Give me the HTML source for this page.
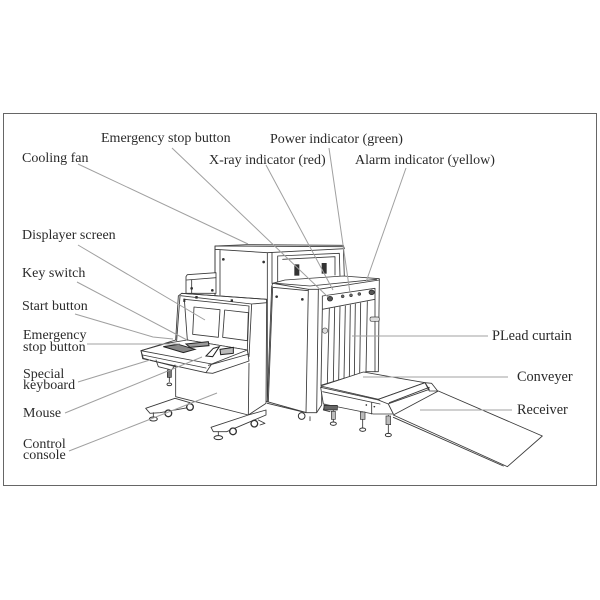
<!DOCTYPE html>
<html>
<head>
<meta charset="utf-8">
<style>
html,body{margin:0;padding:0;background:#fff}
svg{display:block;filter:blur(.3px)}
text{font-family:"Liberation Serif",serif;font-size:14px;fill:#2a2a2a}
.l{stroke:#a0a0a0;stroke-width:1;fill:none}
.d{stroke:#3a3a3a;stroke-width:2.6;fill:none;stroke-linejoin:round;stroke-linecap:round}
.f{stroke:#3a3a3a;stroke-width:2.6;fill:#fff;stroke-linejoin:round}
.k{fill:#333;stroke:none}
</style>
</head>
<body>
<svg width="600" height="600" viewBox="0 0 600 600" xmlns="http://www.w3.org/2000/svg">
<rect x="3.5" y="113.5" width="593" height="372" fill="#fff" stroke="#666" stroke-width="1"/>

<!-- main machine -->
<g transform="translate(210,230) scale(.33333)">
  <path class="f" d="M15 48 L400 50 L403 140 L190 160 L172 515 L15 500 Z"/>
  <path class="d" d="M15 48 L15 200 M30 60 L30 195 M15 58 L172 68 M172 68 L172 515 M186 68 L186 160 M15 48 L110 44 L400 46 L403 56 L172 68 M203 78 L388 70 L390 140 M203 78 L203 155 M218 88 L375 80 L375 135"/>
  <rect class="k" x="253" y="103" width="15" height="34"/>
  <rect class="k" x="335" y="99" width="15" height="32"/>
  <circle class="k" cx="40" cy="88" r="4"/>
  <circle class="k" cx="161" cy="96" r="4"/>
  <path class="f" d="M188 160 L225 150 L400 138 L508 146 L505 425 L470 425 L335 465 L335 525 L320 548 L290 548 L172 515 L185 170 Z"/>
  <path class="d" d="M188 160 L295 178 L325 178 L508 150 M188 172 L295 182 M295 178 L288 548 M325 178 L320 548 M188 170 L175 515 M172 520 L288 548 M198 160 L300 168 L500 148"/>
  <path class="d" d="M337 198 L495 175 L495 208 L337 238 Z M337 238 L333 465 M472 215 L468 425 M495 208 L495 425 M358 236 L352 458 M374 233 L370 455 M390 230 L386 450 M406 228 L402 446 M421 225 L418 442 M436 222 L433 438 M452 219 L449 434"/>
  <circle class="k" cx="200" cy="200" r="4"/>
  <circle class="k" cx="277" cy="208" r="4"/>
  <ellipse cx="360" cy="206" rx="8" ry="7" fill="#555" stroke="#222" stroke-width="2"/>
  <circle cx="398" cy="199" r="4.5" fill="#666" stroke="#222" stroke-width="1.5"/>
  <circle cx="423" cy="196" r="4.5" fill="#666" stroke="#222" stroke-width="1.5"/>
  <circle cx="448" cy="192" r="4.5" fill="#666" stroke="#222" stroke-width="1.5"/>
  <ellipse cx="485" cy="187" rx="8" ry="7" fill="#555" stroke="#222" stroke-width="2"/>
  <rect x="480" y="261" width="28" height="13" rx="5" fill="#ddd" stroke="#444" stroke-width="2"/>
  <circle cx="345" cy="302" r="8" fill="#ddd" stroke="#555" stroke-width="2"/>
  <circle cx="275" cy="558" r="10" fill="#fff" stroke="#333" stroke-width="3"/>
</g>

<!-- console -->
<g transform="translate(130,230) scale(.33333)">
  <path class="f" d="M168 190 L168 140 L172 134 L258 128 L258 190 Z"/>
  <path class="d" d="M170 150 L258 143 M185 150 L185 190"/>
  <circle class="k" cx="185" cy="175" r="4"/>
  <circle class="k" cx="247" cy="181" r="4"/>
  <path class="f" d="M137 330 L145 198 L155 190 L410 208 L408 520 L355 555 L137 500 L137 410 L40 385 L33 362 L137 330 Z"/>
  <path class="d" d="M152 197 L365 222 M155 190 L410 208 L410 218 L365 222 L357 380 M150 198 L140 332"/>
  <path class="d" d="M163 208 L357 228 L352 360 L172 330 Z"/>
  <path class="d" d="M192 231 L270 239 L265 322 L188 313 Z M284 240 L355 248 L352 332 L278 322 Z M357 400 L355 555"/>
  <rect class="k" x="196" y="198" width="7" height="8"/>
  <rect class="k" x="302" y="208" width="7" height="8"/>
  <rect class="k" x="160" y="206" width="6" height="10"/>
  <path class="f" d="M33 362 L110 340 L172 330 L352 360 L245 402 Z"/>
  <path class="d" d="M33 362 L38 386 L228 428 L245 402 M228 428 L248 430 L357 393 L352 360 M38 375 L228 414 M235 406 L357 372"/>
  <path d="M100 350 L145 343 L195 358 L160 368 Z" fill="#888" stroke="#222" stroke-width="3"/>
  <path d="M168 342 L235 335 L237 347 L180 352 Z" fill="#999" stroke="#222" stroke-width="3"/>
  <path d="M228 378 L250 355 L268 350 L248 380 Z" fill="#fff" stroke="#222" stroke-width="3"/>
  <path d="M270 358 L310 352 L310 370 L272 374 Z" fill="#bbb" stroke="#222" stroke-width="3"/>
  <path class="d" d="M78 390 L85 410 L125 420 L135 405 M118 420 V455"/>
  <rect x="112" y="420" width="12" height="22" fill="#777" stroke="#222" stroke-width="2"/>
  <ellipse cx="118" cy="463" rx="7" ry="4" fill="#fff" stroke="#333" stroke-width="3"/>
  <path class="f" d="M47 535 L135 505 L180 518 L190 530 L90 548 L60 550 Z"/>
  <ellipse cx="70" cy="567" rx="12" ry="6" fill="#fff" stroke="#333" stroke-width="3"/>
  <path class="d" d="M70 548 V560"/>
  <circle cx="115" cy="550" r="10" fill="#fff" stroke="#333" stroke-width="4"/>
  <circle cx="180" cy="531" r="10" fill="#fff" stroke="#333" stroke-width="4"/>
  <path class="f" d="M243 592 L355 555 L408 540 L408 555 L290 605 L250 605 Z"/>
  <ellipse cx="265" cy="623" rx="13" ry="6" fill="#fff" stroke="#333" stroke-width="3"/>
  <path class="d" d="M265 605 V616"/>
  <circle cx="309" cy="604" r="10" fill="#fff" stroke="#333" stroke-width="4"/>
  <circle cx="373" cy="581" r="10" fill="#fff" stroke="#333" stroke-width="4"/>
  <path class="d" d="M385 570 L405 580 L390 585"/>
</g>

<!-- conveyer and ramp -->
<g transform="translate(310,330) scale(.33333)">
  <path class="f" d="M385 183 L697 318 L592 410 L250 255 Z"/>
  <path class="d" d="M250 262 L580 408"/>
  <path class="f" d="M32 168 L160 126 L345 158 L205 208 Z"/>
  <path class="f" d="M205 208 L345 158 L358 178 L225 225 Z"/>
  <path class="d" d="M238 218 L358 172 M345 158 L365 160 L383 183 L358 183 Z"/>
  <path class="f" d="M32 172 L205 210 L235 222 L250 252 L190 252 L40 222 Z"/>
  <path class="d" d="M38 185 L210 222 M185 218 L185 252 M45 222 L40 240 L60 245"/>
  <rect x="42" y="226" width="40" height="14" fill="#666" stroke="#222" stroke-width="2"/>
  <path class="d" d="M70 242 V275 M158 245 V293 M235 256 V310 M0 260 V272"/>
  <rect x="151" y="246" width="14" height="22" fill="#bbb" stroke="#333" stroke-width="2"/>
  <rect x="228" y="258" width="14" height="26" fill="#bbb" stroke="#333" stroke-width="2"/>
  <rect x="64" y="244" width="12" height="24" fill="#bbb" stroke="#333" stroke-width="2"/>
  <ellipse cx="70" cy="281" rx="9" ry="5" fill="#fff" stroke="#333" stroke-width="3"/>
  <ellipse cx="158" cy="299" rx="9" ry="5" fill="#fff" stroke="#333" stroke-width="3"/>
  <ellipse cx="235" cy="315" rx="9" ry="5" fill="#fff" stroke="#333" stroke-width="3"/>
  <circle class="k" cx="169" cy="225" r="2.5"/>
  <circle class="k" cx="193" cy="230" r="2.5"/>
</g>

<!-- leader lines -->
<path class="l" d="M78 164 L248 244 M172 148 L328 297 M266 165 L333 290 M329 148 L350 293 M406 168 L366 282 M78 245 L205 320 M77 282 L187 340 M75 314 L153 337 L173 339 M87 344 L180 344 M78 382 L150 360 M65 413 L202 357 M69 451 L217 393 M352 336 L488 336 M363 377 L508 377 M420 410 L512 410"/>

<!-- labels -->
<text x="101" y="142">Emergency stop button</text>
<text x="270" y="143">Power indicator (green)</text>
<text x="22" y="162">Cooling fan</text>
<text x="209" y="164">X-ray indicator (red)</text>
<text x="355" y="164">Alarm indicator (yellow)</text>
<text x="22" y="239">Displayer screen</text>
<text x="22" y="277">Key switch</text>
<text x="22" y="310">Start button</text>
<text x="23" y="339">Emergency</text>
<text x="23" y="351">stop button</text>
<text x="23" y="378">Special</text>
<text x="23" y="389">keyboard</text>
<text x="23" y="417">Mouse</text>
<text x="23" y="448">Control</text>
<text x="23" y="459">console</text>
<text x="492" y="340" style="font-size:14.3px">PLead curtain</text>
<text x="517" y="381" style="font-size:14.3px">Conveyer</text>
<text x="517" y="414" style="font-size:14.3px">Receiver</text>
</svg>
</body>
</html>
